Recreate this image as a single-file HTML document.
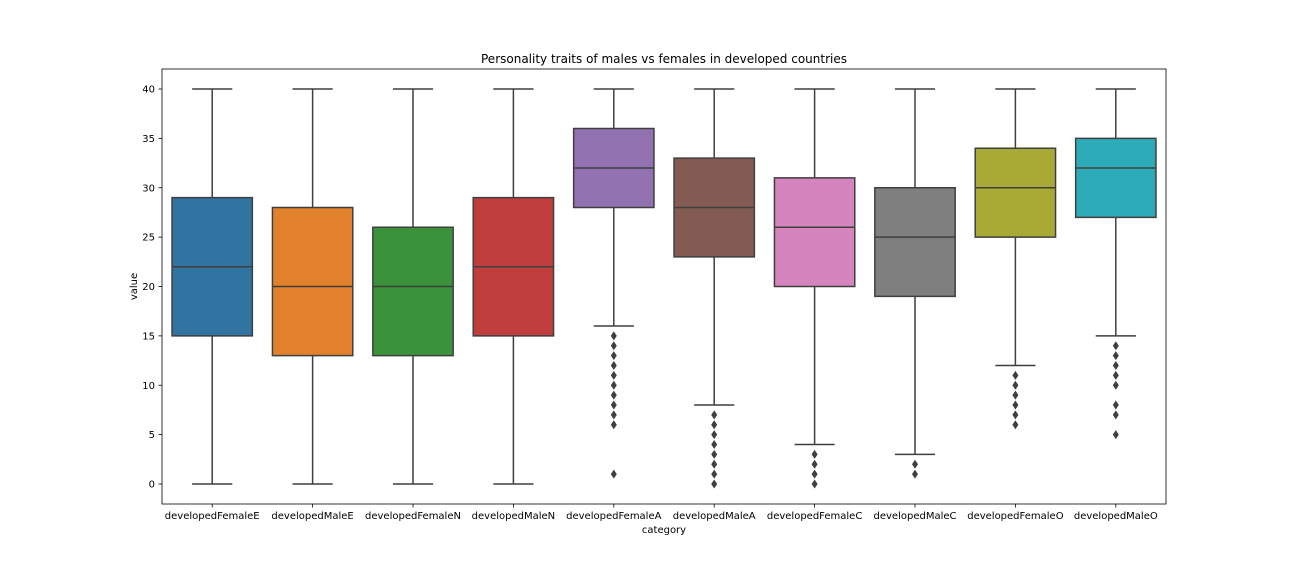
<!DOCTYPE html>
<html><head><meta charset="utf-8"><style>
body{margin:0;background:#fff;}
svg text{font-family:"DejaVu Sans","Liberation Sans",sans-serif;fill:#000;}
</style></head><body>
<svg id="chart" width="1296" height="576" xmlns="http://www.w3.org/2000/svg"></svg>
<script>
const categories=["developedFemaleE","developedMaleE","developedFemaleN","developedMaleN","developedFemaleA","developedMaleA","developedFemaleC","developedMaleC","developedFemaleO","developedMaleO"];
const whiskerLow=[0,0,0,0,16,8,4,3,12,15];
const q1=[15,13,13,15,28,23,20,19,25,27];
const medians=[22,20,20,22,32,28,26,25,30,32];
const q3=[29,28,26,29,36,33,31,30,34,35];
const whiskerHigh=[40,40,40,40,40,40,40,40,40,40];
const outliers=[[],[],[],[],[15,14,13,12,11,10,9,8,7,6,1],[7,6,5,4,3,2,1,0],[3,2,1,0],[2,1],[11,10,9,8,7,6],[14,13,12,11,10,8,7,5]];
const colors=["#3274a1","#e1812c","#3a923a","#c03d3e","#9372b2","#845b53","#d684bd","#7f7f7f","#a9aa35","#2eabb8"];
const yTicks=[0,5,10,15,20,25,30,35,40];
const L=162,R=1166,T=69,B=504;
const y=v=>484-(v)*(395/40);
const bw=(R-L)/categories.length;
const x=i=>L+bw*(i+0.5);
const svg=document.getElementById('chart');
const NS="http://www.w3.org/2000/svg";
function mk(tag,attrs,parent){const e=document.createElementNS(NS,tag);for(const k in attrs)e.setAttribute(k,attrs[k]);(parent||svg).appendChild(e);return e;}
const line="#3f3f3f";
categories.forEach((c,i)=>{
  const g=mk('g',{});
  
  
  const cx=x(i),hw=bw*0.4;
  mk('line',{x1:cx,x2:cx,y1:y(whiskerLow[i]),y2:y(q1[i]),stroke:line,'stroke-width':1.5},g);
  mk('line',{x1:cx,x2:cx,y1:y(q3[i]),y2:y(whiskerHigh[i]),stroke:line,'stroke-width':1.5},g);
  mk('line',{x1:cx-hw/2,x2:cx+hw/2,y1:y(whiskerLow[i]),y2:y(whiskerLow[i]),stroke:line,'stroke-width':1.5},g);
  mk('line',{x1:cx-hw/2,x2:cx+hw/2,y1:y(whiskerHigh[i]),y2:y(whiskerHigh[i]),stroke:line,'stroke-width':1.5},g);
  mk('rect',{x:cx-hw,y:y(q3[i]),width:2*hw,height:y(q1[i])-y(q3[i]),fill:colors[i],stroke:line,'stroke-width':1.5},g);
  mk('line',{x1:cx-hw,x2:cx+hw,y1:y(medians[i]),y2:y(medians[i]),stroke:line,'stroke-width':1.5},g);
  outliers[i].forEach(v=>{
    const p=mk('path',{d:`M${cx} ${y(v)-4.5}L${cx+3} ${y(v)}L${cx} ${y(v)+4.5}L${cx-3} ${y(v)}Z`,fill:line},g);
    
    
  });
  mk('line',{x1:cx,x2:cx,y1:B,y2:B+3.5,stroke:'#000','stroke-width':0.8});
  const t=mk('text',{x:cx,y:B+15,'font-size':10,'text-anchor':'middle'});t.textContent=c;
  
  
});
yTicks.forEach(v=>{
  mk('line',{x1:L-3.5,x2:L,y1:y(v),y2:y(v),stroke:'#000','stroke-width':0.8});
  const t=mk('text',{x:L-7,y:y(v)+3.5,'font-size':10,'text-anchor':'end'});t.textContent=v;
  
  
});
const fr=mk('rect',{x:L,y:T,width:R-L,height:B-T,fill:'none',stroke:'#000','stroke-width':0.8});


const ti=mk('text',{x:(L+R)/2,y:63,'font-size':12,'text-anchor':'middle'});ti.textContent="Personality traits of males vs females in developed countries";


const xl=mk('text',{x:(L+R)/2,y:533,'font-size':10,'text-anchor':'middle'});xl.textContent="category";


const yl=mk('text',{x:0,y:0,'font-size':10,'text-anchor':'middle',transform:`translate(137,${(T+B)/2}) rotate(-90)`});yl.textContent="value";


</script>
</body></html>
